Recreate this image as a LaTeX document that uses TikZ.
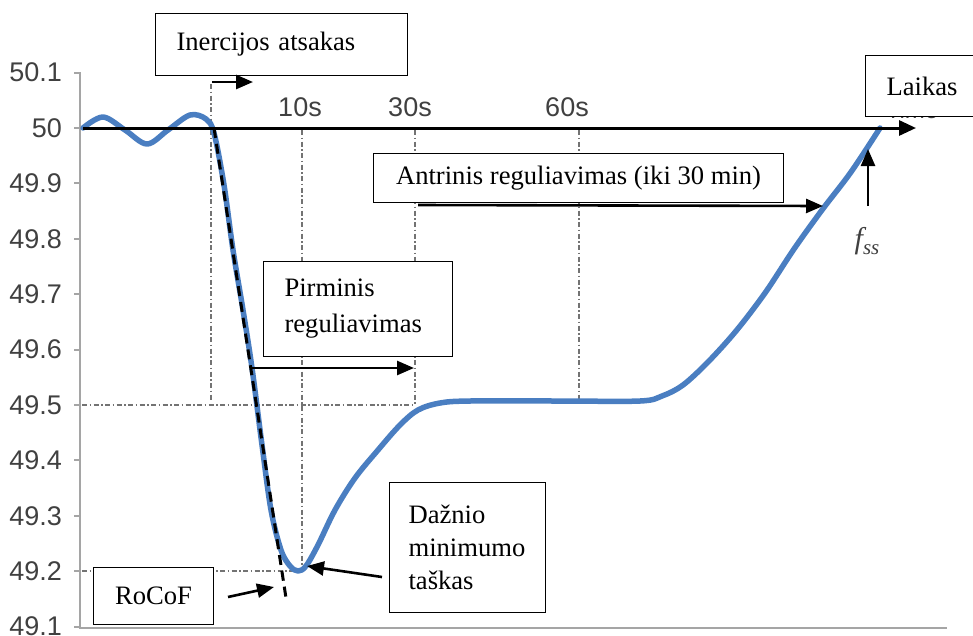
\documentclass[tikz,border=0pt]{standalone}
\usepackage{fontspec}
\setmainfont{Liberation Serif}
\newfontfamily\axisfont{Liberation Sans}
\usetikzlibrary{arrows.meta}
\definecolor{curveblue}{RGB}{74,126,193}
\definecolor{labelgray}{RGB}{64,64,64}
\definecolor{axisgray}{RGB}{165,165,165}
\begin{document}
\begin{tikzpicture}[x=1pt,y=-1pt,
  box/.style={draw=black, line width=1.1pt, fill=white, inner ysep=0pt,
    font=\fontsize{26.6}{33}\selectfont},
  guide/.style={draw=black!55, line width=1.1pt,
    dash pattern=on 5pt off 2.5pt on 1.5pt off 2.5pt},
  pointer/.style={draw=black, line width=2.6pt,
    -{Triangle[length=17pt,width=14pt]}},
  ylab/.style={font=\axisfont\fontsize{27}{27}\selectfont, text=labelgray,
    anchor=east, inner sep=0pt},
  tlab/.style={font=\axisfont\fontsize{27}{27}\selectfont, text=labelgray,
    inner sep=0pt}]
\useasboundingbox (0,0) rectangle (973,635);

% frequency axis with ticks and labels
\draw[axisgray, line width=2.5pt] (80,72) -- (80,628) -- (947,628);
\foreach \v [count=\i from 0] in {50.1,50,49.9,49.8,49.7,49.6,49.5,49.4,49.3,49.2,49.1} {
  \node[ylab] (yl\i) at (62,{72.6+55.4*\i}) {\v};
  \draw[axisgray, line width=2pt] (74,{72.6+55.4*\i}) -- (80,{72.6+55.4*\i});
}

% time marks
\node[tlab] (t10) at (300,107) {10s};
\node[tlab] (t30) at (410,107) {30s};
\node[tlab] (t60) at (567,107) {60s};

% guide lines
\coordinate (g0a) at (211,84);  \coordinate (g0b) at (211,400);
\coordinate (g1a) at (302,130); \coordinate (g1b) at (302,571);
\coordinate (g2a) at (415,130); \coordinate (g2b) at (415,405);
\coordinate (g3a) at (579,130); \coordinate (g3b) at (579,405);
\coordinate (h1a) at (82,405);  \coordinate (h1b) at (415,405);
\coordinate (h2a) at (82,571);  \coordinate (h2b) at (302,571);
\draw[guide] (g0a) -- (g0b);
\draw[guide] (g1a) -- (g1b);
\draw[guide] (g2a) -- (g2b);
\draw[guide] (g3a) -- (g3b);
\draw[guide] (h1a) -- (h1b);
\draw[guide] (h2a) -- (h2b);

% frequency response
\draw[curveblue, line width=5.5pt, line cap=round, line join=round]
  plot[smooth, tension=0.55] coordinates {
  (83,128) (103,117) (125,130) (147,144) (168,130) (190,115) (206,119)
  (214,133) (224,185) (233,250) (243,310) (252,368) (262,445) (271,510)
  (281,550) (290,566) (298,571) (306,566) (318,545) (335,510) (355,478)
  (378,450) (400,425) (418,410) (440,403) (470,401) (560,401) (640,401)
  (662,396) (683,385) (708,362) (736,331) (765,293) (794,249) (822,210)
  (851,172) (880,128)};

% axis title, mostly covered by the Laikas box
\node[font=\axisfont\fontsize{24}{24}\selectfont, text=labelgray, anchor=base,
  inner sep=0pt] (timeword) at (912,118) {Time};

% time axis
\coordinate (ax0) at (83,128);
\coordinate (ax1) at (916,128);
\draw[black, line width=3pt, -{Triangle[length=17pt,width=15pt]}] (ax0) -- (ax1);

% RoCoF tangent
\coordinate (rc0) at (214,128);
\coordinate (rc1) at (286,598);
\draw[black, line width=3pt, dash pattern=on 10pt off 6pt] (rc0) -- (rc1);

% annotation boxes
\node[box, anchor=north west, minimum width=252pt, minimum height=62pt,
  inner xsep=21pt, text width=210pt, align=left] (iner) at (155,13)
  {Inercijos atsakas};
\node[box, anchor=north west, minimum width=130pt, minimum height=61pt,
  inner xsep=21pt, text width=88pt, align=left] (laik) at (865,55) {Laikas};
\node[box, anchor=north west, minimum width=410pt, minimum height=49pt]
  (antr) at (373,153) {Antrinis reguliavimas (iki 30 min)};
\node[box, anchor=north west, minimum width=189pt, minimum height=95pt,
  inner xsep=21pt, text width=147pt, align=left,
  font=\fontsize{26.6}{36}\selectfont] (pirm) at (263,261)
  {Pirminis\\reguliavimas};
\node[box, anchor=north west, minimum width=156pt, minimum height=130pt,
  inner xsep=19pt, text width=118pt, align=left] (dazn) at (389,482)
  {Dažnio\\minimumo\\taškas};
\node[box, anchor=north west, minimum width=120pt, minimum height=57pt]
  (roco) at (93,567) {RoCoF};

% pointers
\coordinate (pa0) at (212,82);  \coordinate (pa1) at (253,82);
\coordinate (pb0) at (252,368); \coordinate (pb1) at (414,368);
\coordinate (pc0) at (418,205); \coordinate (pc1) at (823,206);
\coordinate (pd0) at (228,597); \coordinate (pd1) at (274,587);
\coordinate (pe0) at (382,577); \coordinate (pe1) at (307,566);
\coordinate (pf0) at (868,206); \coordinate (pf1) at (868,149);
\draw[pointer] (pa0) -- (pa1);
\draw[pointer] (pb0) -- (pb1);
\draw[pointer] (pc0) -- (pc1);
\draw[pointer] (pd0) -- (pd1);
\draw[pointer] (pe0) -- (pe1);
\draw[pointer] (pf0) -- (pf1);

% steady-state label
\node[text=labelgray, inner sep=0pt] (fss) at (867,241)
  {\fontsize{30}{30}\selectfont\itshape f\raisebox{-6pt}{\fontsize{21}{21}\selectfont ss}};
\end{tikzpicture}
\end{document}
